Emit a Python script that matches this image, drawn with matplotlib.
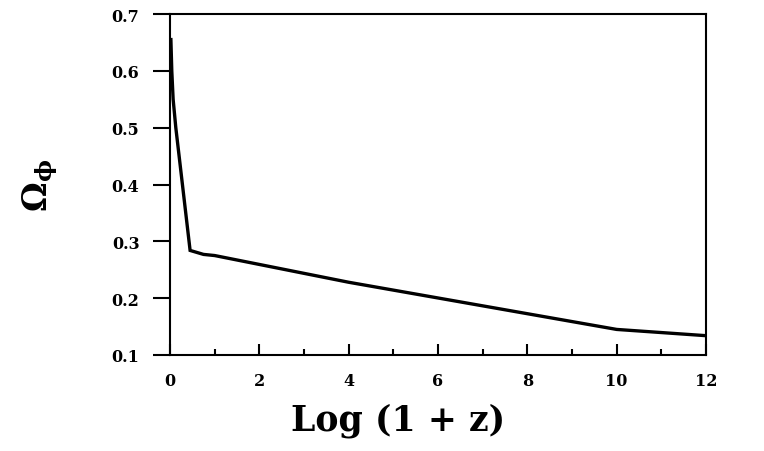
import matplotlib
matplotlib.use("Agg")
import matplotlib.pyplot as plt
from matplotlib.ticker import MultipleLocator

# Data
log_1pz = [0.02, 0.04, 0.07, 0.13, 0.45, 0.75, 1.0, 4.0, 10.0, 12.0]
omega_phi = [0.655, 0.60, 0.55, 0.50, 0.284, 0.277, 0.275, 0.228, 0.145, 0.134]

x_ticks = [0, 2, 4, 6, 8, 10, 12]
y_ticks = [0.1, 0.2, 0.3, 0.4, 0.5, 0.6, 0.7]

plt.rcParams['font.family'] = ['DejaVu Serif']
plt.rcParams['font.weight'] = 'bold'
plt.rcParams['mathtext.fontset'] = 'dejavuserif'

fig = plt.figure(figsize=(7.64, 4.52), dpi=100)
ax = fig.add_axes([170/764, 1 - 356/452, (706 - 170)/764, (356 - 15)/452])

ax.plot(log_1pz, omega_phi, color='black', lw=2.4, solid_joinstyle='miter')

ax.set_xlim(0, 12)
ax.set_ylim(0.1, 0.7)
ax.set_xticks(x_ticks)
ax.set_yticks(y_ticks)
ax.xaxis.set_minor_locator(MultipleLocator(1))
ax.set_xticklabels([str(v) for v in x_ticks], fontsize=11.5, fontweight='bold')
ax.set_yticklabels([f"{v:.1f}" for v in y_ticks], fontsize=11.5, fontweight='bold')

ax.tick_params(axis='x', which='major', direction='in', length=8, width=1.5, pad=12)
ax.tick_params(axis='x', which='minor', direction='in', length=4, width=1.5)
ax.tick_params(axis='y', which='major', direction='out', length=12, width=1.5, pad=10)

for s in ax.spines.values():
    s.set_linewidth(1.5)

ax.set_xlabel('Log (1 + z)', fontsize=25, fontweight='bold')
ax.xaxis.set_label_coords((398 - 170) / 536, -0.14)
ax.set_ylabel(r'$\mathbf{\Omega}_{\mathbf{\phi}}$', fontsize=24, labelpad=37, rotation=90)

fig.savefig('out.png', dpi=100)
